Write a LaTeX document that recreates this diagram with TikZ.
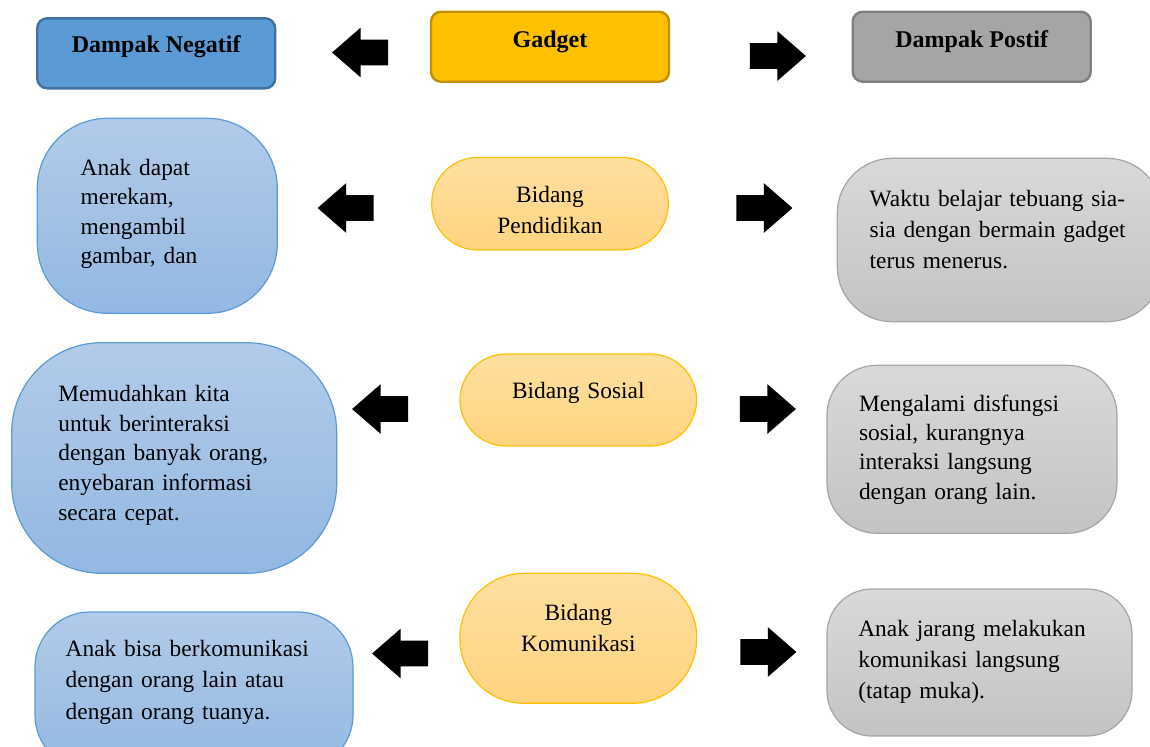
\documentclass[tikz,border=0pt]{standalone}
\usepackage{fontspec}
\setmainfont{Liberation Serif}
\usetikzlibrary{shapes.arrows}
\definecolor{biru}{RGB}{91,155,213}
\definecolor{birutepi}{RGB}{65,113,156}
\definecolor{biruatas}{RGB}{178,203,233}
\definecolor{birubawah}{RGB}{147,184,226}
\definecolor{emas}{RGB}{255,192,0}
\definecolor{emastepi}{RGB}{191,144,0}
\definecolor{kuningatas}{RGB}{255,223,160}
\definecolor{kuningbawah}{RGB}{255,212,127}
\definecolor{abu}{RGB}{165,165,165}
\definecolor{abutepi}{RGB}{127,127,127}
\definecolor{abuatas}{RGB}{217,217,217}
\definecolor{abubawah}{RGB}{195,195,195}

\begin{document}
\begin{tikzpicture}[x=0.5pt, y=-0.5pt,
    every node/.style={inner sep=0pt, outer sep=0pt, text height=8pt},
    isi/.style={font=\fontsize{11.7}{#1}\selectfont},
    kepala/.style={draw, line width=1.2pt, rounded corners=5pt, minimum width=119pt, minimum height=35pt, font=\fontsize{12}{14}\selectfont\bfseries},
    kotakneg/.style={draw=biru, line width=0.6pt, top color=biruatas, bottom color=birubawah, align=left},
    kotakpos/.style={draw=abu, line width=0.6pt, top color=abuatas, bottom color=abubawah, align=left},
    bidang/.style={draw=emas, line width=0.6pt, top color=kuningatas, bottom color=kuningbawah, align=center, minimum width=118.3pt, text width=110pt, isi=15.5pt},
    panah/.style={single arrow, fill=black, minimum height=28pt, inner xsep=0pt, inner ysep=6.25pt, text height=0pt, text depth=0pt, single arrow head extend=6pt, single arrow tip angle=82, single arrow head indent=0pt},
    panahkiri/.style={panah, shape border rotate=180}]
    \clip (0,0) rectangle (1150,746);

    \node[kepala, fill=biru, draw=birutepi, text depth=9pt] (negatif) at (156.2,53.3) {Dampak Negatif};
    \node[kepala, fill=emas, draw=emastepi, text depth=7.2pt] (gadget) at (550,46.7) {Gadget};
    \node[kepala, fill=abu, draw=abutepi, text depth=7pt] (positif) at (971.7,46.7) {Dampak Postif};
    \node[panahkiri] (kiri0) at (367.5,52.5) {};
    \node[panah] (kanan0) at (770.5,56) {};

    % bidang pendidikan
    \node[kotakneg, isi=14.8pt, rounded corners=35pt, minimum width=120pt, minimum height=97.5pt, text width=76.6pt, text depth=48.8pt] (neg1) at (157.3,215.8) {Anak dapat\\ merekam,\\ mengambil\\ gambar, dan};
    \node[panahkiri] (kiri1) at (353,208) {};
    \node[bidang, minimum height=46.3pt, rounded corners=23pt, text depth=9.7pt] (pend) at (550,203.7) {Bidang\\ Pendidikan};
    \node[panah] (kanan1) at (757,208) {};
    \node[kotakpos, isi=15.6pt, rounded corners=27.5pt, minimum width=162.4pt, minimum height=81.7pt, text width=130pt, text depth=42pt] (pos1) at (999.7,240) {Waktu belajar tebuang sia-\\ sia dengan bermain gadget\\ terus menerus.};

    % bidang sosial
    \node[kotakneg, isi=14.8pt, rounded corners=45pt, minimum width=162.5pt, minimum height=115.3pt, text width=115.9pt, text depth=64.3pt] (neg2) at (174.2,458) {Memudahkan kita\\ untuk berinteraksi\\ dengan banyak orang,\\ enyebaran informasi\\ secara cepat.};
    \node[panahkiri] (kiri2) at (387.5,409) {};
    \node[bidang, minimum height=46pt, rounded corners=23pt, text depth=9.7pt] (sos) at (578.3,400) {Bidang Sosial};
    \node[panah] (kanan2) at (760.5,409) {};
    \node[kotakpos, isi=14.7pt, rounded corners=25pt, minimum width=145pt, minimum height=84pt, text width=113pt, text depth=46.3pt] (pos2) at (972,449.3) {Mengalami disfungsi\\ sosial, kurangnya\\ interaksi langsung\\ dengan orang lain.};

    % bidang komunikasi
    \node[kotakneg, isi=15.85pt, rounded corners=27.5pt, minimum width=159pt, minimum height=79pt, text width=128.3pt, text depth=43pt] (neg3) at (194,691) {Anak bisa berkomunikasi\\ dengan orang lain atau\\ dengan orang tuanya.};
    \node[panahkiri] (kiri3) at (407.5,653.5) {};
    \node[bidang, minimum height=65pt, rounded corners=32pt, text depth=25.6pt] (kom) at (578.3,638.3) {Bidang\\ Komunikasi};
    \node[panah] (kanan3) at (761,652) {};
    \node[kotakpos, isi=15.5pt, rounded corners=22.5pt, minimum width=152.5pt, minimum height=73.5pt, text width=121.2pt, text depth=34.5pt] (pos3) at (979.5,662.5) {Anak jarang melakukan\\ komunikasi langsung\\ (tatap muka).};
\end{tikzpicture}
\end{document}
